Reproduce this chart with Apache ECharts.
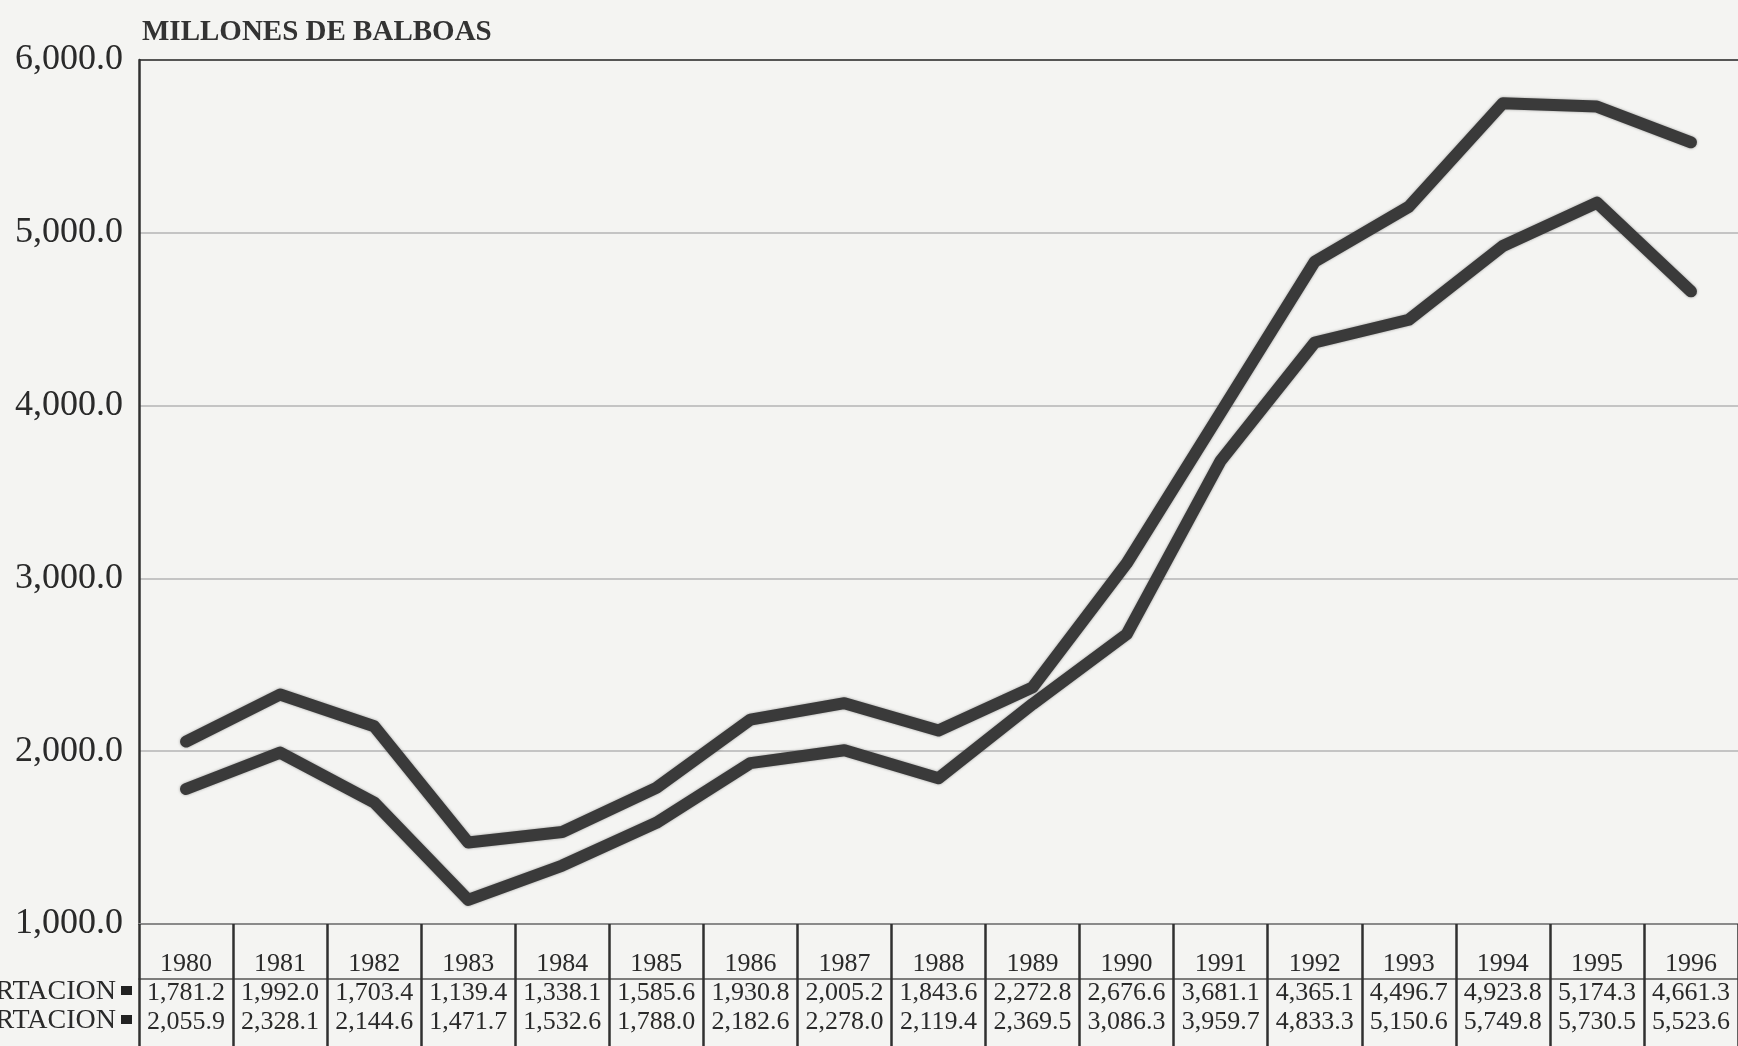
<!DOCTYPE html>
<html>
<head>
<meta charset="utf-8">
<script src="https://cdn.jsdelivr.net/npm/echarts@6/dist/echarts.min.js"></script>
<style>
html,body{margin:0;padding:0;background:#f4f4f2;}
#chart{width:1738px;height:1046px;}
</style>
</head>
<body>
<div id="chart"></div>
<script>
const years = ['1980','1981','1982','1983','1984','1985','1986','1987','1988','1989','1990','1991','1992','1993','1994','1995','1996'];
const exportacion = [1781.2,1992.0,1703.4,1139.4,1338.1,1585.6,1930.8,2005.2,1843.6,2272.8,2676.6,3681.1,4365.1,4496.7,4923.8,5174.3,4661.3];
const importacion = [2055.9,2328.1,2144.6,1471.7,1532.6,1788.0,2182.6,2278.0,2119.4,2369.5,3086.3,3959.7,4833.3,5150.6,5749.8,5730.5,5523.6];
const rowNames = ['EXPORTACION','IMPORTACION'];
const titleText = 'MILLONES DE BALBOAS';

function fmt(v){
  const s = v.toFixed(1);
  const parts = s.split('.');
  parts[0] = parts[0].replace(/\B(?=(\d{3})+(?!\d))/g, ',');
  return parts.join('.');
}

const FONT = '"Liberation Serif","DejaVu Serif",serif';
const TXT = '#2a2a2a';
const GL = 139, GT = 60, GH = 864, BW = 95.2;
const GW = BW * years.length;
const TFS = 26;

const chart = echarts.init(document.getElementById('chart'));
const lineStyle = {width: 12, color: '#3a3a3a', shadowColor: 'rgba(0,0,0,0.35)', shadowBlur: 3, cap: 'round', join: 'round'};

chart.setOption({
  backgroundColor: '#f4f4f2',
  animation: false,
  title: {
    text: titleText, left: GL - 2, top: 13,
    textStyle: {fontFamily: FONT, fontSize: 29, fontWeight: 'bold', color: '#333'}
  },
  grid: {left: GL, top: GT, width: GW, height: GH},
  xAxis: [
    {
      type: 'category', data: years, boundaryGap: true, position: 'bottom',
      axisLine: {show: true, lineStyle: {color: '#8a8a8a', width: 2}},
      axisTick: {show: true, length: 122, inside: false, lineStyle: {color: '#303030', width: 2.5}},
      axisLabel: {margin: 27, fontFamily: FONT, fontSize: TFS, color: TXT, interval: 0},
      splitLine: {show: false}
    },
    {
      type: 'category', data: years, boundaryGap: true, position: 'bottom', offset: 55,
      axisLine: {show: true, lineStyle: {color: '#555', width: 1.5}},
      axisTick: {show: false},
      axisLabel: {margin: 1, fontFamily: FONT, fontSize: TFS, color: TXT, interval: 0,
        formatter: (v, i) => fmt(exportacion[i])},
      splitLine: {show: false}
    },
    {
      type: 'category', data: years, boundaryGap: true, position: 'bottom', offset: 84,
      axisLine: {show: false},
      axisTick: {show: false},
      axisLabel: {margin: 1, fontFamily: FONT, fontSize: TFS, color: TXT, interval: 0,
        formatter: (v, i) => fmt(importacion[i])},
      splitLine: {show: false}
    }
  ],
  yAxis: {
    type: 'value', min: 1000, max: 6000, interval: 1000,
    axisLine: {show: true, lineStyle: {color: '#303030', width: 2.5}},
    axisTick: {show: false},
    axisLabel: {margin: 16, fontFamily: FONT, fontSize: 36, color: TXT, formatter: v => fmt(v)},
    splitLine: {show: true, lineStyle: {color: ['#9a9a9a','#c4c4c4','#c4c4c4','#c4c4c4','#c4c4c4','#555555'], width: 2}}
  },
  series: [
    {name: rowNames[0], type: 'line', data: exportacion, xAxisIndex: 0, symbol: 'none', lineStyle: lineStyle, z: 3},
    {name: rowNames[1], type: 'line', data: importacion, xAxisIndex: 0, symbol: 'none', lineStyle: lineStyle, z: 3}
  ],
  graphic: [
    {type: 'text', right: 1738 - 116, top: 978, style: {text: rowNames[0], font: '28px ' + FONT, fill: TXT, textAlign: 'right'}},
    {type: 'text', right: 1738 - 116, top: 1007, style: {text: rowNames[1], font: '28px ' + FONT, fill: TXT, textAlign: 'right'}},
    {type: 'rect', left: 121, top: 986, shape: {width: 11, height: 9}, style: {fill: '#222'}},
    {type: 'rect', left: 121, top: 1015, shape: {width: 11, height: 9}, style: {fill: '#222'}}
  ]
});
</script>
</body>
</html>
